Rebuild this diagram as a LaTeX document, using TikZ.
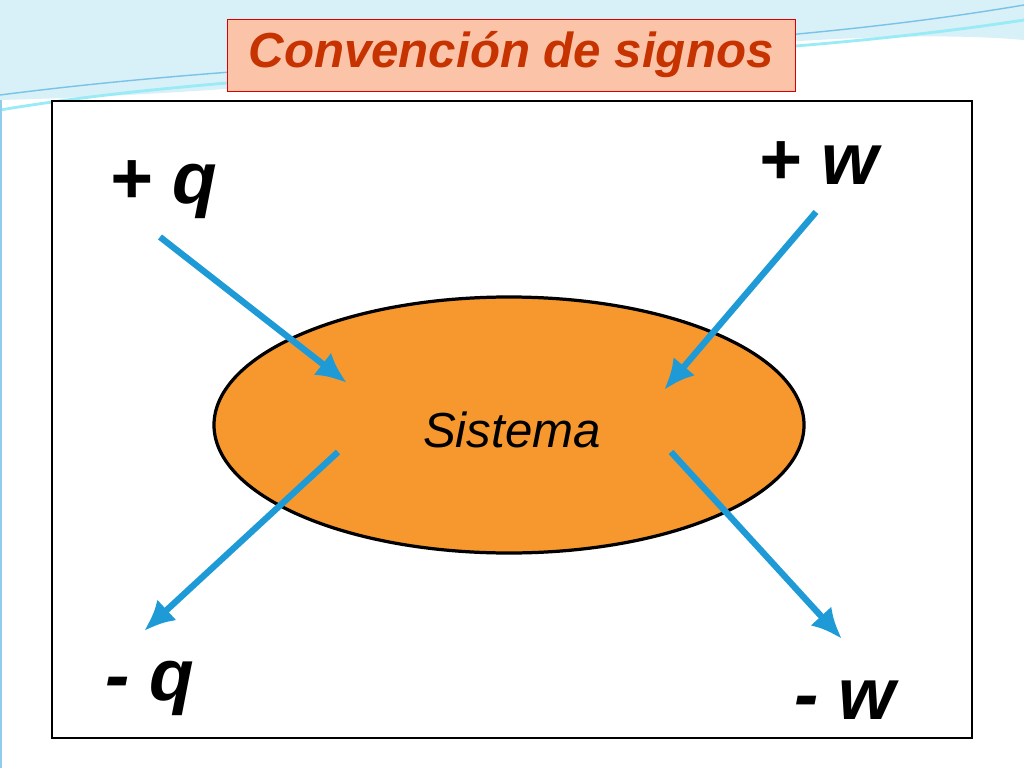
\documentclass[tikz,border=0pt]{standalone}
\usepackage{fontspec}
\setmainfont{Liberation Sans}
\begin{document}
\begin{tikzpicture}[x=0.025cm,y=-0.025cm,
  arr/.style={draw=myblue,line width=4.5pt,-{Latex[length=22pt,width=20pt]}},
  lbl/.style={font=\fontsize{52}{56}\selectfont\bfseries\itshape}]
\usetikzlibrary{arrows.meta}
\definecolor{myblue}{HTML}{1E9BD7}
\definecolor{myorange}{HTML}{F7982E}
\definecolor{titlefill}{HTML}{FBC4A8}
\definecolor{titletext}{HTML}{C63300}
\definecolor{wave}{HTML}{BFE6F2}
\useasboundingbox (0,0) rectangle (1024,768);
\fill[white] (0,0) rectangle (1024,768);
% top waves
\fill[wave!60] (0,0) -- (1024,0) -- (1024,40) .. controls (800,20) and (400,90) .. (0,100) -- cycle;
\draw[wave!80!cyan,line width=2pt] (0,110) .. controls (300,60) and (700,70) .. (1024,20);
\draw[myblue!60,line width=1pt] (0,95) .. controls (350,50) and (700,60) .. (1024,5);
\draw[myblue!50,line width=2pt] (1,100) -- (1,768);
% frame
\node[draw=black,line width=0.8pt,fill=white,minimum width=920*0.025cm,minimum height=637*0.025cm,inner sep=0pt] (frame) at (512,419.5) {};
% title
\node[draw=red!85!black,fill=titlefill,minimum width=568*0.025cm,minimum height=72*0.025cm,inner sep=0pt,
  font=\fontsize{35}{38}\selectfont\bfseries\itshape,text=titletext] (title) at (511,55) {Convención de signos};
% ellipse
\draw[fill=myorange,line width=2.3pt] (509,425) ellipse [x radius=295, y radius=128];
\node[font=\fontsize{35}{38}\selectfont\itshape] (sys) at (512,430) {Sistema};
% arrows
\coordinate (a1) at (160,237); \coordinate (b1) at (347,383);
\coordinate (a2) at (816,212); \coordinate (b2) at (664,390);
\coordinate (a3) at (338,452); \coordinate (b3) at (144,631);
\coordinate (a4) at (671,452); \coordinate (b4) at (842,639);
\draw[arr] (a1) -- (b1);
\draw[arr] (a2) -- (b2);
\draw[arr] (a3) -- (b3);
\draw[arr] (a4) -- (b4);
% labels
\node[lbl] (pq) at (163,190) {+ q};
\node[lbl] (pw) at (818,163) {+ w};
\node[lbl] (mq) at (150,688) {- q};
\node[lbl] (mw) at (845,700) {- w};
\end{tikzpicture}
\end{document}
